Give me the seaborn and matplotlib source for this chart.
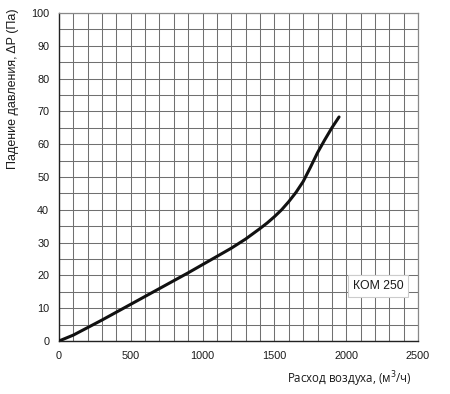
import matplotlib
matplotlib.use('Agg')
import matplotlib.pyplot as plt
import pandas as pd
import seaborn as sns
from matplotlib.ticker import MultipleLocator

# Data
flow = [0, 100, 200, 300, 400, 500, 600, 700, 800, 900, 1000, 1100, 1200,
        1300, 1400, 1450, 1500, 1550, 1600, 1650, 1700, 1750, 1800, 1850,
        1900, 1950]
pressure = [0, 1.8, 4.1, 6.4, 8.8, 11.2, 13.6, 16.0, 18.4, 20.8, 23.3, 25.8, 28.3,
            31.1, 34.3, 36.0, 37.9, 40.0, 42.5, 45.3, 48.6, 52.9, 57.4, 61.3,
            65.0, 68.3]
model = 'КОМ 250'

df = pd.DataFrame({'flow': flow, 'pressure': pressure})

sns.set_style('white')
plt.rcParams['font.family'] = ['Liberation Sans', 'DejaVu Sans']

fig = plt.figure(figsize=(4.5, 3.94), dpi=100)
ax = fig.add_axes([0.131, 0.1345, 0.798, 0.8325])

sns.lineplot(data=df, x='flow', y='pressure', ax=ax, color='#111111',
             linewidth=2.2, zorder=5)

ax.set_xlim(0, 2500)
ax.set_ylim(0, 100)
ax.xaxis.set_major_locator(MultipleLocator(500))
ax.xaxis.set_minor_locator(MultipleLocator(100))
ax.yaxis.set_major_locator(MultipleLocator(10))
ax.yaxis.set_minor_locator(MultipleLocator(5))
ax.grid(which='both', color='#707070', linewidth=0.75)
ax.set_axisbelow(True)

for s in ['top', 'right']:
    ax.spines[s].set_color('#888888')
    ax.spines[s].set_linewidth(0.9)
for s in ['left', 'bottom']:
    ax.spines[s].set_color('#222222')
    ax.spines[s].set_linewidth(1.0)

ax.tick_params(which='major', direction='out', length=4, width=0.8,
               color='#222222', labelcolor='#1a1a1a', labelsize=7.8, pad=3)
ax.tick_params(which='minor', length=0)

ax.set_ylabel('Падение давления, ΔP (Па)', fontsize=9, loc='top',
              color='#1a1a1a')
ax.yaxis.set_label_coords(-0.11, 1.015)
ax.set_xlabel('Расход воздуха, (м$^{3}$/ч)', fontsize=8.3, loc='right',
              family=['Open Sans', 'DejaVu Sans'], color='#1a1a1a')
ax.xaxis.set_label_coords(0.983, -0.088)

ax.text(2221, 16.7, model, ha='center', va='center', fontsize=8.8, zorder=6,
        color='#1a1a1a',
        bbox=dict(boxstyle='square,pad=0.4', facecolor='white',
                  edgecolor='#cccccc', linewidth=0.8))

fig.savefig('out.png', dpi=100)
